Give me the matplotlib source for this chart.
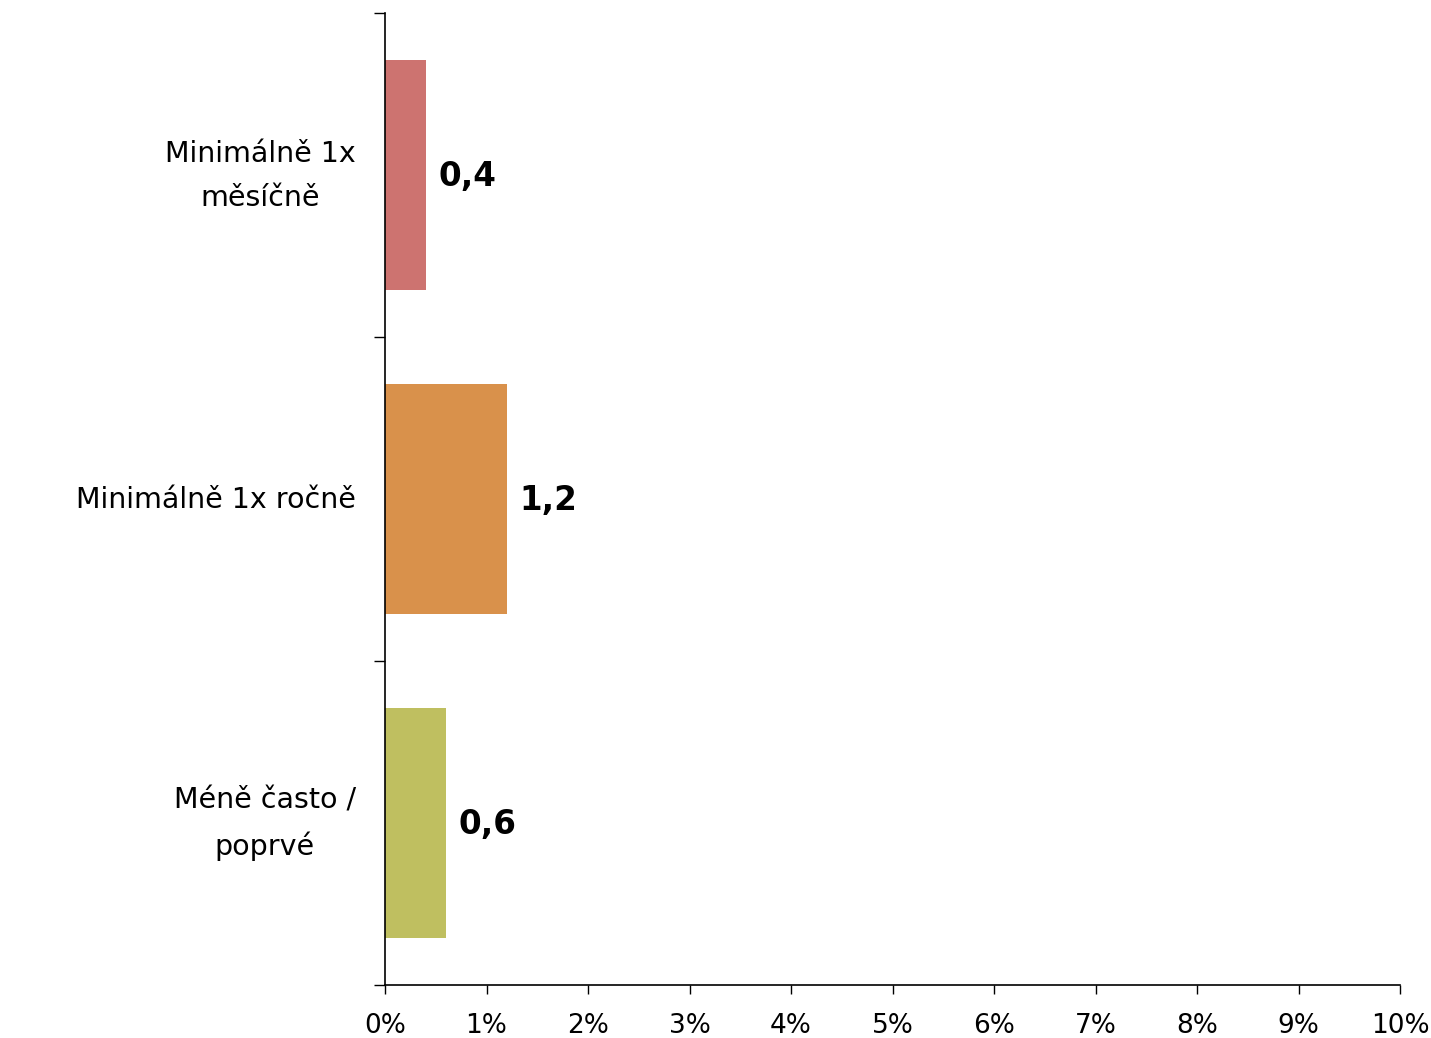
import matplotlib
matplotlib.use("Agg")
import matplotlib.pyplot as plt
import numpy as np

categories = ["Minimálně 1x\nměsíčně", "Minimálně 1x ročně", "Méně často /\npoprvé"]
values = [0.4, 1.2, 0.6]
value_labels = ["0,4", "1,2", "0,6"]
colors = ["#CD7370", "#D9914B", "#BFBF60"]
xticks = list(range(0, 11))
xtick_labels = [f"{t}%" for t in xticks]

plt.rcParams['font.family'] = ['DejaVu Sans']

fig = plt.figure(figsize=(14.31, 10.38), dpi=100)
ax = fig.add_axes([385/1431, 1-985/1038, (1400-385)/1431, (985-13)/1038])

y = np.arange(len(categories))
ax.barh(y, values, height=0.707, color=colors)
ax.set_ylim(len(categories)-0.5, -0.5)
ax.set_xlim(0, 10)

ax.set_yticks([-0.5, 0.5, 1.5, 2.5])
ax.set_yticklabels([])
ax.tick_params(axis='y', which='major', length=8, width=1, direction='out')

for yi, cat in zip(y, categories):
    ax.annotate(cat, (0, yi), xycoords=('axes fraction', 'data'),
                xytext=(-21, -0.5), textcoords='offset points',
                ha='right', va='center', multialignment='center',
                linespacing=1.72, fontsize=20.5)

ax.set_xticks(xticks)
ax.set_xticklabels(xtick_labels, fontsize=19)
ax.tick_params(axis='x', length=6.5, width=1, direction='out', pad=14)

for s in ['top', 'right']:
    ax.spines[s].set_visible(False)
ax.spines['left'].set_linewidth(1.2)
ax.spines['bottom'].set_linewidth(1.2)

for yi, v, lab in zip(y, values, value_labels):
    ax.annotate(lab, (v, yi), xytext=(9, -1), textcoords='offset points',
                va='center', ha='left', fontsize=23.5, fontweight='bold')

fig.savefig("out.png", dpi=100)
